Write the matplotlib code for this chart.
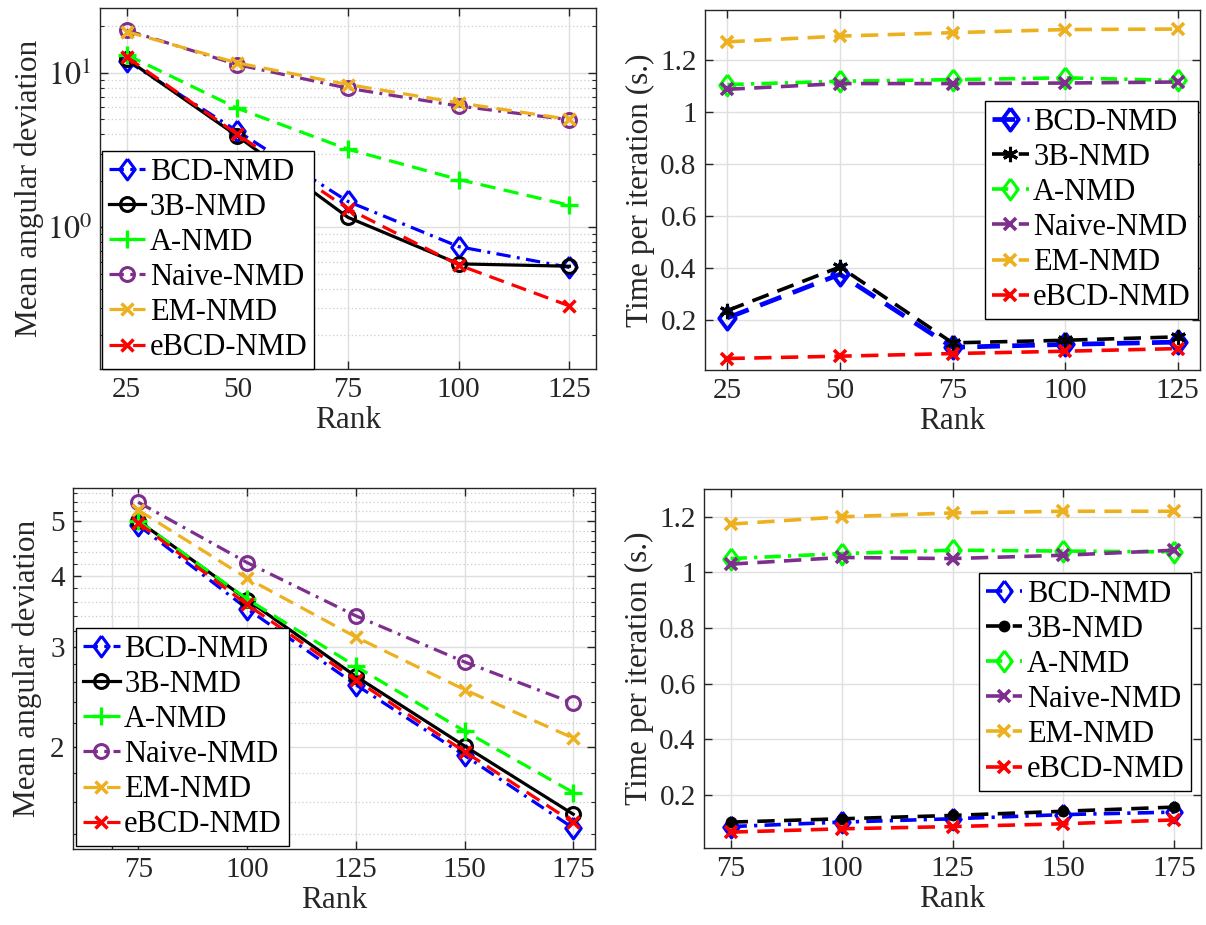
import matplotlib
matplotlib.use("Agg")
import matplotlib.pyplot as plt
from matplotlib.ticker import FixedLocator, NullFormatter, FixedFormatter, LogLocator
import numpy as np

plt.rcParams['font.family'] = ['Liberation Serif', 'DejaVu Serif']
plt.rcParams['mathtext.fontset'] = 'stix'

# ---------------- data ----------------
methods = ['BCD-NMD', '3B-NMD', 'A-NMD', 'Naive-NMD', 'EM-NMD', 'eBCD-NMD']

rank_top = [25, 50, 75, 100, 125]
rank_bot = [75, 100, 125, 150, 175]

# top-left: mean angular deviation (log)
dev_top_bcd = [12.0, 4.2, 1.47, 0.75, 0.55]
dev_top_3b = [12.3, 3.9, 1.16, 0.58, 0.56]
dev_top_a = [13.1, 5.9, 3.2, 2.04, 1.39]
dev_top_naive = [18.9, 11.3, 7.95, 6.1, 4.97]
dev_top_em = [18.5, 11.6, 8.4, 6.4, 5.0]
dev_top_ebcd = [12.7, 4.0, 1.32, 0.57, 0.31]

# top-right: time per iteration
time_top_bcd = [0.21, 0.377, 0.097, 0.108, 0.117]
time_top_3b = [0.238, 0.405, 0.114, 0.124, 0.137]
time_top_a = [1.104, 1.117, 1.123, 1.13, 1.12]
time_top_naive = [1.086, 1.108, 1.108, 1.11, 1.114]
time_top_em = [1.268, 1.29, 1.303, 1.315, 1.317]
time_top_ebcd = [0.054, 0.063, 0.073, 0.082, 0.092]

# bottom-left: mean angular deviation (log)
dev_bot_bcd = [4.91, 3.50, 2.57, 1.93, 1.437]
dev_bot_3b = [5.0, 3.63, 2.66, 2.005, 1.52]
dev_bot_a = [5.0, 3.64, 2.77, 2.13, 1.66]
dev_bot_naive = [5.39, 4.22, 3.40, 2.82, 2.385]
dev_bot_em = [5.22, 3.96, 3.12, 2.52, 2.07]
dev_bot_ebcd = [4.96, 3.56, 2.62, 1.96, 1.47]

# bottom-right: time per iteration
time_bot_bcd = [0.087, 0.103, 0.115, 0.13, 0.139]
time_bot_3b = [0.103, 0.115, 0.127, 0.142, 0.157]
time_bot_a = [1.05, 1.068, 1.08, 1.077, 1.074]
time_bot_naive = [1.03, 1.054, 1.05, 1.062, 1.08]
time_bot_em = [1.174, 1.2, 1.214, 1.22, 1.22]
time_bot_ebcd = [0.067, 0.079, 0.087, 0.097, 0.111]

# ---------------- styles ----------------
BLUE = '#0000FF'
BLACK = '#000000'
GREEN = '#00FF00'
PURPLE = '#7E2F8E'
ORANGE = '#EDB120'
RED = '#FF0000'
TXT = '#262626'

DIAMOND = [(0, 1), (0.74, 0), (0, -1), (-0.74, 0), (0, 1)]
ASTER = (6, 2, 0)
DASH = (0, (4.8, 2.6))
DASHDOT = (0, (4.5, 2.0, 0.9, 2.0))
SOLID = '-'

dev_styles = [
    dict(color=BLUE, ls=DASHDOT, marker=DIAMOND, ms=15, mfc='none', mew=2.2, lw=2.3),
    dict(color=BLACK, ls=SOLID, marker='o', ms=10, mfc='none', mew=2.2, lw=2.3),
    dict(color=GREEN, ls=DASH, marker='+', ms=13, mew=2.4, lw=2.3),
    dict(color=PURPLE, ls=DASHDOT, marker='o', ms=10, mfc='none', mew=2.2, lw=2.3),
    dict(color=ORANGE, ls=DASH, marker='x', ms=9, mew=2.5, lw=2.3),
    dict(color=RED, ls=DASH, marker='x', ms=9, mew=2.5, lw=2.3),
]

time_styles_top = [
    dict(color=BLUE, ls=DASH, marker=DIAMOND, ms=16, mfc='none', mew=2.8, lw=3.4),
    dict(color=BLACK, ls=DASH, marker=ASTER, ms=11, mew=2.2, lw=2.6),
    dict(color=GREEN, ls=DASHDOT, marker=DIAMOND, ms=15, mfc='none', mew=2.2, lw=2.6),
    dict(color=PURPLE, ls=DASH, marker='x', ms=9, mew=2.6, lw=2.6),
    dict(color=ORANGE, ls=DASH, marker='x', ms=9, mew=2.6, lw=2.6),
    dict(color=RED, ls=DASH, marker='x', ms=9, mew=2.6, lw=2.6),
]

time_styles_bot = [
    dict(color=BLUE, ls=DASHDOT, marker=DIAMOND, ms=15, mfc='none', mew=2.2, lw=2.6),
    dict(color=BLACK, ls=DASH, marker='o', ms=7, mew=1.5, lw=2.6),
    dict(color=GREEN, ls=DASHDOT, marker=DIAMOND, ms=15, mfc='none', mew=2.2, lw=2.6),
    dict(color=PURPLE, ls=DASH, marker='x', ms=9, mew=2.6, lw=2.6),
    dict(color=ORANGE, ls=DASH, marker='x', ms=9, mew=2.6, lw=2.6),
    dict(color=RED, ls=DASH, marker='x', ms=9, mew=2.6, lw=2.6),
]

W, H = 1206, 925
fig = plt.figure(figsize=(W / 100, H / 100), dpi=100)

TICK_FS = 21
LABEL_FS = 22.5
LEG_FS = 22


def make_ax(l, r, t, b):
    return fig.add_axes([l / W, 1 - b / H, (r - l) / W, (b - t) / H])


def style_ax(ax):
    ax.tick_params(axis='both', which='both', direction='in', top=True, right=True,
                   labelsize=TICK_FS, colors=TXT, labelcolor=TXT, pad=6)
    ax.tick_params(which='major', length=6, width=1)
    ax.tick_params(which='minor', length=3, width=0.8)
    for s in ax.spines.values():
        s.set_color(TXT)
        s.set_linewidth(1.0)
    ax.set_axisbelow(True)


def add_legend(ax, x, y):
    leg = ax.legend(loc='upper left', bbox_to_anchor=(x, y), fontsize=LEG_FS,
                    frameon=True, fancybox=False, framealpha=1, edgecolor='#000000',
                    borderaxespad=0, borderpad=0.22, labelspacing=0.2,
                    handlelength=1.2, handletextpad=0.15)
    leg.get_frame().set_linewidth(1.0)
    return leg


major_grid = dict(color='#DFDFDF', lw=1.0, ls='-')
minor_grid = dict(color='#CCCCCC', lw=0.9, ls=(0, (1, 2)))

# ---------- top-left ----------
ax1 = make_ax(100, 596, 8, 369)
for vals, st, name in zip([dev_top_bcd, dev_top_3b, dev_top_a, dev_top_naive, dev_top_em, dev_top_ebcd],
                          dev_styles, methods):
    ax1.plot(rank_top, vals, label=name, **st)
ax1.set_yscale('log')
ax1.set_xlim(19, 131)
ax1.set_ylim(0.121, 26.3)
ax1.set_xticks(rank_top)
ax1.yaxis.set_major_locator(FixedLocator([1, 10]))
ax1.yaxis.set_major_formatter(FixedFormatter([r'$10^{0}$', r'$10^{1}$']))
ax1.yaxis.set_minor_locator(LogLocator(base=10, subs=np.arange(2, 10)))
ax1.yaxis.set_minor_formatter(NullFormatter())
ax1.grid(True, which='major', **major_grid)
ax1.grid(True, which='minor', axis='y', **minor_grid)
style_ax(ax1)
ax1.tick_params(axis='y', labelsize=TICK_FS + 2)
ax1.set_xlabel('Rank', fontsize=LABEL_FS, color=TXT, labelpad=2)
ax1.set_ylabel('Mean angular deviation', fontsize=LABEL_FS, color=TXT, labelpad=2)
add_legend(ax1, 0.004, 0.604)

# ---------- top-right ----------
ax2 = make_ax(705, 1200, 10, 370)
for vals, st, name in zip([time_top_bcd, time_top_3b, time_top_a, time_top_naive, time_top_em, time_top_ebcd],
                          time_styles_top, methods):
    ax2.plot(rank_top, vals, label=name, **st)
ax2.set_xlim(20, 130)
ax2.set_ylim(0.01, 1.39)
ax2.set_xticks(rank_top)
ax2.set_yticks([0.2, 0.4, 0.6, 0.8, 1.0, 1.2])
ax2.set_yticklabels(['0.2', '0.4', '0.6', '0.8', '1', '1.2'])
ax2.grid(True, which='major', **major_grid)
style_ax(ax2)
ax2.set_xlabel('Rank', fontsize=LABEL_FS, color=TXT, labelpad=2)
ax2.set_ylabel('Time per iteration (s.)', fontsize=LABEL_FS, color=TXT, labelpad=4)
add_legend(ax2, 0.566, 0.747)

# ---------- bottom-left ----------
ax3 = make_ax(73, 595, 488, 849)
for vals, st, name in zip([dev_bot_bcd, dev_bot_3b, dev_bot_a, dev_bot_naive, dev_bot_em, dev_bot_ebcd],
                          dev_styles, methods):
    ax3.plot(rank_bot, vals, label=name, **st)
ax3.set_yscale('log')
ax3.set_xlim(60, 180)
ax3.set_ylim(1.32, 5.71)
ax3.xaxis.set_major_locator(FixedLocator([69] + rank_bot))
ax3.xaxis.set_major_formatter(FixedFormatter([''] + [str(r) for r in rank_bot]))
ax3.yaxis.set_major_locator(FixedLocator([2, 3, 4, 5]))
ax3.yaxis.set_major_formatter(FixedFormatter(['2', '3', '4', '5']))
ax3.yaxis.set_minor_locator(FixedLocator([v / 10 for v in range(14, 58, 2)]))
ax3.yaxis.set_minor_formatter(NullFormatter())
ax3.grid(True, which='major', **major_grid)
ax3.grid(True, which='minor', axis='y', **minor_grid)
style_ax(ax3)
ax3.set_xlabel('Rank', fontsize=LABEL_FS, color=TXT, labelpad=2)
ax3.set_ylabel('Mean angular deviation', fontsize=LABEL_FS, color=TXT, labelpad=6)
add_legend(ax3, 0.006, 0.612)

# ---------- bottom-right ----------
ax4 = make_ax(704, 1201, 489, 848)
for vals, st, name in zip([time_bot_bcd, time_bot_3b, time_bot_a, time_bot_naive, time_bot_em, time_bot_ebcd],
                          time_styles_bot, methods):
    ax4.plot(rank_bot, vals, label=name, **st)
ax4.set_xlim(69, 181)
ax4.set_ylim(0.01, 1.30)
ax4.set_xticks(rank_bot)
ax4.set_yticks([0.2, 0.4, 0.6, 0.8, 1.0, 1.2])
ax4.set_yticklabels(['0.2', '0.4', '0.6', '0.8', '1', '1.2'])
ax4.grid(True, which='major', **major_grid)
style_ax(ax4)
ax4.set_xlabel('Rank', fontsize=LABEL_FS, color=TXT, labelpad=2)
ax4.set_ylabel('Time per iteration (s.)', fontsize=LABEL_FS, color=TXT, labelpad=4)
add_legend(ax4, 0.553, 0.766)

fig.savefig('out.png', dpi=100, facecolor='white')
